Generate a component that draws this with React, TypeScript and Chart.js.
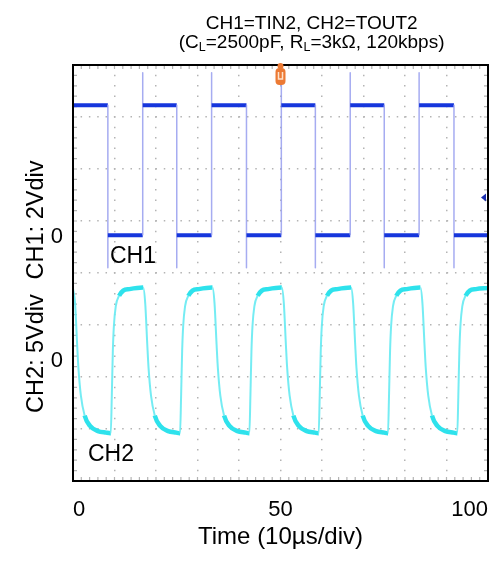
import React, { useEffect, useRef } from 'react';
import { Chart, registerables } from 'chart.js';

Chart.register(...registerables);

// ---- text ----
const TITLE_LINE1 = 'CH1=TIN2, CH2=TOUT2';
const TITLE_LINE2: [string, boolean][] = [
  ['(C', false], ['L', true], ['=2500pF, R', false], ['L', true], ['=3kΩ, 120kbps)', false],
];
const X_TITLE = 'Time (10µs/div)';
const CH1_TITLE = 'CH1: 2Vdiv';
const CH2_TITLE = 'CH2: 5Vdiv';
const CH1_NAME = 'CH1';
const CH2_NAME = 'CH2';
const ZERO_LABEL = '0';

// ---- scope settings ----
const X_MIN = 0;
const X_MAX = 100;
const X_STEP = 10;
const X_LABELED_TICKS = [0, 50, 100];
const Y_DIVS = 8;
const Y_GRID_DIVS = [0, 1, 2, 3, 4, 5, 6, 7, 8];
const CH1_VOLTS_PER_DIV = 2;
const CH2_VOLTS_PER_DIV = 5;
const CH1_ZERO_DIV = 4.7; // divisions above the bottom of the screen
const CH2_ZERO_DIV = 2.3;
const TRIGGER_TIME = 50;
const TRIGGER_LEVEL_CH1 = 1.5;

// ---- CH1 = TIN2 (µs, V) ----
const ch1Time = [
  0, 8.4, 8.4, 8.4, 8.6,
  16.8, 16.8, 16.8, 17.0,
  25.0, 25.0, 25.0, 25.2,
  33.4, 33.4, 33.4, 33.6,
  41.8, 41.8, 41.8, 42.0,
  50.2, 50.2, 50.2, 50.4,
  58.4, 58.4, 58.4, 58.6,
  66.8, 66.8, 66.8, 67.0,
  75.0, 75.0, 75.0, 75.2,
  83.4, 83.4, 83.4, 83.6,
  91.8, 91.8, 91.8, 92.0,
  100,
];
const ch1Volt = [
  5.05, 5.05, -1.2, 0.05, 0.05,
  0.05, 6.3, 5.05, 5.05,
  5.05, -1.2, 0.05, 0.05,
  0.05, 6.3, 5.05, 5.05,
  5.05, -1.2, 0.05, 0.05,
  0.05, 6.5, 5.05, 5.05,
  5.05, -1.2, 0.05, 0.05,
  0.05, 6.3, 5.05, 5.05,
  5.05, -1.2, 0.05, 0.05,
  0.05, 6.3, 5.05, 5.05,
  5.05, -1.2, 0.05, 0.05,
  0.05,
];

// ---- CH2 = TOUT2 (µs, V) ----
const ch2Time = [
  0, 0.5, 1.0, 1.3, 1.9, 2.8, 4.1, 6.0, 8.0, 9.0,
  9.1, 9.35, 9.6, 9.85, 10.3, 11.1, 12.1, 13.6, 16.8,
  16.9, 17.4, 17.9, 18.2, 18.8, 19.7, 21.0, 22.9, 24.9, 25.7,
  25.8, 26.05, 26.3, 26.55, 27.0, 27.8, 28.8, 30.3, 33.5,
  33.6, 34.1, 34.6, 34.9, 35.5, 36.4, 37.7, 39.6, 41.6, 42.4,
  42.5, 42.75, 43.0, 43.25, 43.7, 44.5, 45.5, 47.0, 50.2,
  50.3, 50.8, 51.3, 51.6, 52.2, 53.1, 54.4, 56.3, 58.3, 59.1,
  59.2, 59.45, 59.7, 59.95, 60.4, 61.2, 62.2, 63.7, 66.9,
  67.0, 67.5, 68.0, 68.3, 68.9, 69.8, 71.1, 73.0, 75.0, 75.8,
  75.9, 76.15, 76.4, 76.65, 77.1, 77.9, 78.9, 80.4, 83.6,
  83.7, 84.2, 84.7, 85.0, 85.6, 86.5, 87.8, 89.7, 91.7, 92.5,
  92.6, 92.85, 93.1, 93.35, 93.8, 94.6, 95.6, 97.1, 100,
];
const ch2Volt = [
  7.0, 5.6, 1.6, -0.6, -3.3, -5.2, -6.2, -6.7, -6.85, -6.9,
  -6.9, -3.3, 1.0, 3.4, 5.3, 6.3, 6.8, 6.95, 7.1,
  7.1, 5.6, 1.6, -0.6, -3.3, -5.2, -6.2, -6.7, -6.85, -6.9,
  -6.9, -3.3, 1.0, 3.4, 5.3, 6.3, 6.8, 6.95, 7.1,
  7.1, 5.6, 1.6, -0.6, -3.3, -5.2, -6.2, -6.7, -6.85, -6.9,
  -6.9, -3.3, 1.0, 3.4, 5.3, 6.3, 6.8, 6.95, 7.1,
  7.1, 5.6, 1.6, -0.6, -3.3, -5.2, -6.2, -6.7, -6.85, -6.9,
  -6.9, -3.3, 1.0, 3.4, 5.3, 6.3, 6.8, 6.95, 7.1,
  7.1, 5.6, 1.6, -0.6, -3.3, -5.2, -6.2, -6.7, -6.85, -6.9,
  -6.9, -3.3, 1.0, 3.4, 5.3, 6.3, 6.8, 6.95, 7.1,
  7.1, 5.6, 1.6, -0.6, -3.3, -5.2, -6.2, -6.7, -6.85, -6.9,
  -6.9, -3.3, 1.0, 3.4, 5.3, 6.3, 6.8, 6.95, 7.05,
];

// ---- style ----
const FONT = '"Liberation Sans", Arial, Helvetica, sans-serif';
const GRID_COLOR = '#b4b4b4';
const CH1_COLOR = '#1636dc';
const CH1_EDGE_COLOR = 'rgba(150,158,238,0.85)';
const CH2_COLOR = '#2ee2ec';
const CH2_EDGE_COLOR = 'rgba(110,235,242,0.95)';

const decorPlugin = {
  id: 'scopeDecor',
  beforeDatasetsDraw(chart: any) {
    const { ctx, chartArea: a, scales } = chart;
    ctx.save();
    ctx.strokeStyle = GRID_COLOR;
    ctx.lineWidth = 1.2;
    ctx.beginPath();
    for (let v = X_MIN; v <= X_MAX + 1e-9; v += X_STEP / 5) {
      const px = scales.x.getPixelForValue(v);
      ctx.moveTo(px, a.bottom); ctx.lineTo(px, a.bottom - 4);
      ctx.moveTo(px, a.top); ctx.lineTo(px, a.top + 4);
    }
    for (let d = 0; d <= Y_DIVS + 1e-9; d += 0.2) {
      const py = scales.yl.getPixelForValue(d);
      ctx.moveTo(a.left, py); ctx.lineTo(a.left + 4, py);
      ctx.moveTo(a.right, py); ctx.lineTo(a.right - 4, py);
    }
    ctx.stroke();
    ctx.restore();
  },
  afterDraw(chart: any) {
    const { ctx, chartArea: a, scales } = chart;
    ctx.save();
    // frame
    ctx.strokeStyle = '#000';
    ctx.lineWidth = 2;
    ctx.strokeRect(a.left, a.top, a.right - a.left, a.bottom - a.top);

    // trigger position marker
    const tx = scales.x.getPixelForValue(TRIGGER_TIME);
    ctx.fillStyle = '#ec7a34';
    ctx.beginPath();
    ctx.arc(tx, a.top + 1, 3, 0, Math.PI * 2);
    ctx.fill();
    ctx.beginPath();
    ctx.roundRect(tx - 5, a.top + 3, 10, 17, 4);
    ctx.fill();
    ctx.strokeStyle = '#fde2cc';
    ctx.lineWidth = 1.5;
    ctx.beginPath();
    ctx.moveTo(tx - 2, a.top + 7); ctx.lineTo(tx - 2, a.top + 14);
    ctx.lineTo(tx + 2, a.top + 14); ctx.lineTo(tx + 2, a.top + 7);
    ctx.stroke();

    // trigger level marker
    const ty = scales.y1.getPixelForValue(TRIGGER_LEVEL_CH1);
    ctx.fillStyle = '#1a2fb0';
    ctx.beginPath();
    ctx.moveTo(a.right - 7, ty);
    ctx.lineTo(a.right - 2, ty - 4);
    ctx.lineTo(a.right - 2, ty + 4);
    ctx.closePath();
    ctx.fill();

    ctx.fillStyle = '#000';
    // channel names
    ctx.font = `23px ${FONT}`;
    ctx.textAlign = 'left';
    ctx.textBaseline = 'alphabetic';
    ctx.fillText(CH1_NAME, scales.x.getPixelForValue(8.9), scales.y1.getPixelForValue(-1.0));
    ctx.fillText(CH2_NAME, scales.x.getPixelForValue(3.6), scales.y2.getPixelForValue(-9.6));

    // y titles
    ctx.font = `23.5px ${FONT}`;
    ctx.textAlign = 'center';
    ctx.textBaseline = 'middle';
    const yTitle = (text: string, cy: number) => {
      ctx.save();
      ctx.translate(a.left - 36, cy);
      ctx.rotate(-Math.PI / 2);
      ctx.fillText(text, 0, 0);
      ctx.restore();
    };
    yTitle(CH1_TITLE, scales.yl.getPixelForValue(5.02));
    yTitle(CH2_TITLE, scales.yl.getPixelForValue(2.45));

    // main title
    const cx = a.left + (a.right - a.left) * 0.575;
    const mainFont = `19px ${FONT}`;
    const subFont = `12.5px ${FONT}`;
    ctx.textBaseline = 'alphabetic';
    ctx.font = mainFont;
    ctx.textAlign = 'center';
    ctx.fillText(TITLE_LINE1, cx, a.top - 36);
    let total = 0;
    for (const [t, sub] of TITLE_LINE2) {
      ctx.font = sub ? subFont : mainFont;
      total += ctx.measureText(t).width;
    }
    let x = cx - total / 2;
    ctx.textAlign = 'left';
    for (const [t, sub] of TITLE_LINE2) {
      ctx.font = sub ? subFont : mainFont;
      ctx.fillText(t, x, a.top - 17 + (sub ? 3 : 0));
      x += ctx.measureText(t).width;
    }
    ctx.restore();
  },
};

export default function App() {
  const ref = useRef<HTMLCanvasElement>(null);
  useEffect(() => {
    document.body.style.margin = '0';
    const canvas = ref.current;
    if (!canvas) return;
    Chart.defaults.font.family = FONT;
    const ch1Points = ch1Time.map((t, i) => ({ x: t, y: ch1Volt[i] }));
    const ch2Points = ch2Time.map((t, i) => ({ x: t, y: ch2Volt[i] }));
    const isVertical = (c: any) => Math.abs(c.p1.x - c.p0.x) < 0.3;
    const isSteep = (c: any) => Math.abs(c.p1.y - c.p0.y) > 3 * Math.abs(c.p1.x - c.p0.x);

    const chart = new Chart(canvas, {
      type: 'line',
      data: {
        datasets: [
          {
            label: CH1_NAME,
            data: ch1Points,
            yAxisID: 'y1',
            borderColor: CH1_COLOR,
            borderWidth: 4,
            borderJoinStyle: 'round',
            borderCapStyle: 'butt',
            pointRadius: 0,
            tension: 0,
            segment: {
              borderColor: (c: any) => (isVertical(c) ? CH1_EDGE_COLOR : undefined),
              borderWidth: (c: any) => (isVertical(c) ? 1.5 : undefined),
            },
          } as any,
          {
            label: CH2_NAME,
            data: ch2Points,
            yAxisID: 'y2',
            borderColor: CH2_COLOR,
            borderWidth: 4.5,
            borderJoinStyle: 'round',
            pointRadius: 0,
            cubicInterpolationMode: 'monotone',
            segment: {
              borderColor: (c: any) => (isSteep(c) ? CH2_EDGE_COLOR : undefined),
              borderWidth: (c: any) => (isSteep(c) ? 2 : undefined),
            },
          } as any,
        ],
      },
      options: {
        animation: false,
        responsive: false,
        events: [],
        layout: { padding: { top: 65, right: 16, left: 0, bottom: 0 } },
        plugins: {
          legend: { display: false },
          title: { display: false },
          tooltip: { enabled: false },
        },
        scales: {
          x: {
            type: 'linear',
            position: 'bottom',
            min: X_MIN,
            max: X_MAX,
            ticks: {
              stepSize: X_STEP,
              autoSkip: false,
              maxRotation: 0,
              align: 'inner',
              padding: 16,
              color: '#000',
              font: { size: 22 },
              callback: (v: any) => (X_LABELED_TICKS.includes(Number(v)) ? String(v) : ''),
            },
            grid: { color: GRID_COLOR, lineWidth: 1.5, drawTicks: false },
            border: { display: false, dash: [1.5, 8.9], dashOffset: 0.75 },
            title: {
              display: true,
              text: X_TITLE,
              color: '#000',
              font: { size: 24 },
              padding: { top: 0, bottom: 9 },
            },
            afterFit: (s: any) => { s.height = 80; },
          },
          yl: {
            type: 'linear',
            position: 'left',
            min: 0,
            max: Y_DIVS,
            afterBuildTicks: (s: any) => {
              s.ticks = [...Y_GRID_DIVS, CH1_ZERO_DIV, CH2_ZERO_DIV]
                .sort((p, q) => p - q)
                .map((v) => ({ value: v }));
            },
            ticks: {
              autoSkip: false,
              padding: 10,
              color: '#000',
              font: { size: 22 },
              callback: (v: any) =>
                Number(v) === CH1_ZERO_DIV || Number(v) === CH2_ZERO_DIV ? ZERO_LABEL : '',
            },
            grid: {
              color: (c: any) => (Number.isInteger(c.tick?.value) ? GRID_COLOR : 'rgba(0,0,0,0)'),
              lineWidth: 1.5,
              drawTicks: false,
            },
            border: { display: false, dash: [1.5, 6.82], dashOffset: 0.75 },
            afterFit: (s: any) => { s.width = 73; },
          },
          y1: {
            type: 'linear',
            display: false,
            min: -CH1_ZERO_DIV * CH1_VOLTS_PER_DIV,
            max: (Y_DIVS - CH1_ZERO_DIV) * CH1_VOLTS_PER_DIV,
          },
          y2: {
            type: 'linear',
            display: false,
            min: -CH2_ZERO_DIV * CH2_VOLTS_PER_DIV,
            max: (Y_DIVS - CH2_ZERO_DIV) * CH2_VOLTS_PER_DIV,
          },
        },
      } as any,
      plugins: [decorPlugin],
    });
    return () => chart.destroy();
  }, []);

  return (
    <div style={{ width: 504, height: 561 }}>
      <canvas ref={ref} width={504} height={561} style={{ display: 'block' }} />
    </div>
  );
}
